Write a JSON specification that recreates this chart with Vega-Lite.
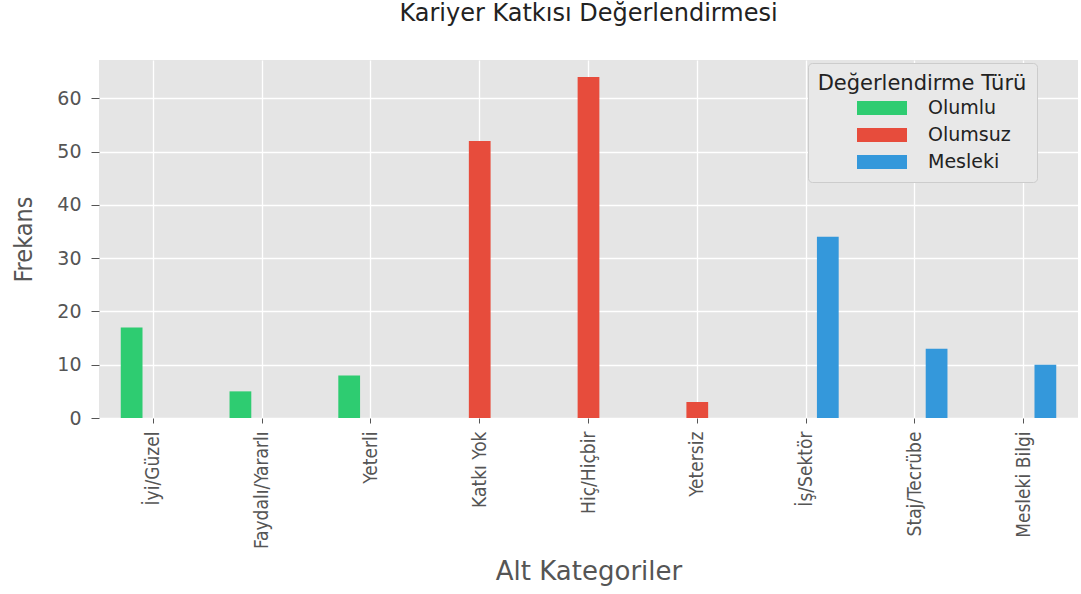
{
  "$schema": "https://vega.github.io/schema/vega-lite/v6.json",
  "width": 979,
  "height": 358,
  "autosize": {"type": "none"},
  "padding": {"left": 99, "top": 60, "right": 3, "bottom": 176},
  "background": "white",
  "title": {
    "text": "Kariyer Katkısı Değerlendirmesi",
    "font": "DejaVu Sans",
    "fontSize": 24,
    "fontWeight": "normal",
    "color": "#222222",
    "anchor": "middle",
    "offset": 34
  },
  "data": {
    "values": [
      {"kategori": "İyi/Güzel", "tur": "Olumlu", "frekans": 17},
      {"kategori": "Faydalı/Yararlı", "tur": "Olumlu", "frekans": 5},
      {"kategori": "Yeterli", "tur": "Olumlu", "frekans": 8},
      {"kategori": "Katkı Yok", "tur": "Olumsuz", "frekans": 52},
      {"kategori": "Hiç/Hiçbir", "tur": "Olumsuz", "frekans": 64},
      {"kategori": "Yetersiz", "tur": "Olumsuz", "frekans": 3},
      {"kategori": "İş/Sektör", "tur": "Mesleki", "frekans": 34},
      {"kategori": "Staj/Tecrübe", "tur": "Mesleki", "frekans": 13},
      {"kategori": "Mesleki Bilgi", "tur": "Mesleki", "frekans": 10}
    ]
  },
  "mark": {"type": "bar", "stroke": null},
  "encoding": {
    "x": {
      "field": "kategori",
      "type": "nominal",
      "sort": ["İyi/Güzel", "Faydalı/Yararlı", "Yeterli", "Katkı Yok", "Hiç/Hiçbir", "Yetersiz", "İş/Sektör", "Staj/Tecrübe", "Mesleki Bilgi"],
      "scale": {"paddingInner": 0, "paddingOuter": 0},
      "axis": {
        "title": "Alt Kategoriler",
        "labelAngle": -90,
        "labelFont": "Liberation Sans Narrow, DejaVu Sans Condensed, sans-serif",
        "labelFontSize": 19,
        "labelColor": "#555555",
        "labelPadding": 8,
        "tickSize": 5,
        "tickColor": "#555555",
        "bandPosition": 0.5,
        "grid": true,
        "gridColor": "white",
        "gridWidth": 1.3,
        "domain": false,
        "titleFont": "DejaVu Sans",
        "titleFontSize": 26,
        "titleFontWeight": "normal",
        "titleColor": "#555555",
        "titlePadding": 10
      }
    },
    "xOffset": {
      "field": "tur",
      "type": "nominal",
      "sort": ["Olumlu", "Olumsuz", "Mesleki"],
      "scale": {"domain": ["Olumlu", "Olumsuz", "Mesleki"], "paddingInner": 0, "paddingOuter": 1.5}
    },
    "y": {
      "field": "frekans",
      "type": "quantitative",
      "scale": {"domain": [0, 67.2], "nice": false, "zero": true},
      "axis": {
        "title": "Frekans",
        "values": [0, 10, 20, 30, 40, 50, 60],
        "labelFont": "DejaVu Sans",
        "labelFontSize": 19,
        "labelColor": "#555555",
        "labelPadding": 10,
        "tickSize": 8,
        "tickColor": "#555555",
        "grid": true,
        "gridColor": "white",
        "gridWidth": 1.3,
        "domain": false,
        "titleFont": "Liberation Sans Narrow, DejaVu Sans Condensed, sans-serif",
        "titleFontSize": 25,
        "titleFontWeight": "normal",
        "titleColor": "#555555",
        "titlePadding": 20
      }
    },
    "color": {
      "field": "tur",
      "type": "nominal",
      "scale": {"domain": ["Olumlu", "Olumsuz", "Mesleki"], "range": ["#2ecc71", "#e74c3c", "#3498db"]},
      "legend": {
        "title": "Değerlendirme Türü",
        "orient": "none",
        "legendX": 709,
        "legendY": 3,
        "titleFont": "DejaVu Sans",
        "titleFontSize": 21,
        "titleFontWeight": "normal",
        "titleColor": "#222222",
        "titleAnchor": "middle",
        "titleLimit": 500,
        "titlePadding": 4,
        "labelFont": "DejaVu Sans",
        "labelFontSize": 19,
        "labelColor": "#222222",
        "labelOffset": 75,
        "labelLimit": 300,
        "symbolType": "M1.4,-0.7H6.4V0.7H1.4Z",
        "symbolSize": 400,
        "symbolStrokeWidth": 0,
        "symbolOpacity": 1,
        "rowPadding": 7,
        "padding": 10,
        "fillColor": "#E8E8E8",
        "strokeColor": "#CCCCCC",
        "cornerRadius": 4
      }
    }
  },
  "config": {
    "view": {"fill": "#E5E5E5", "stroke": null}
  }
}
